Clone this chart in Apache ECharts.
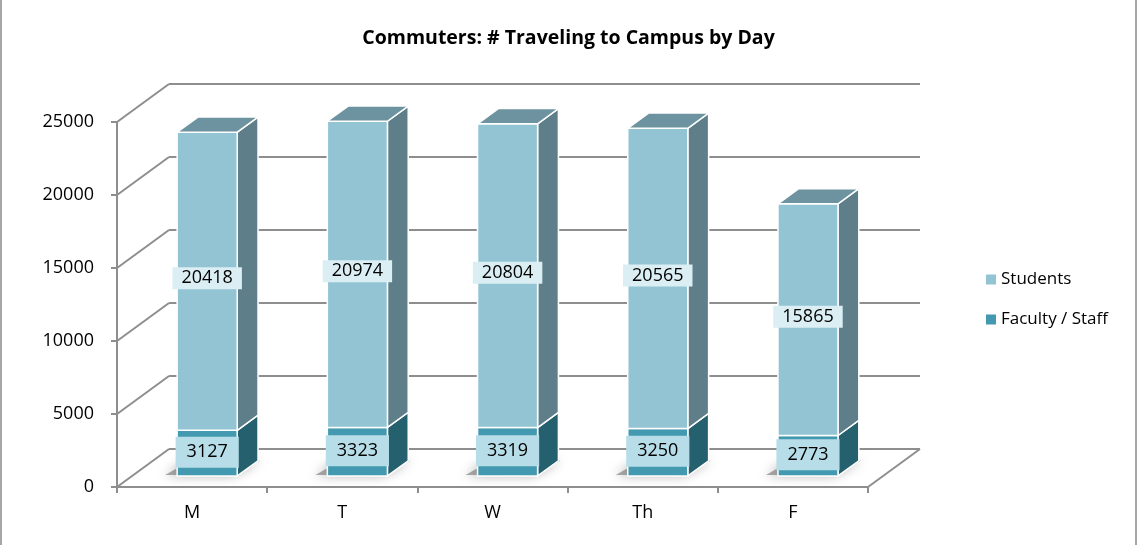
<!DOCTYPE html>
<html>
<head>
<meta charset="utf-8">
<script src="https://cdn.jsdelivr.net/npm/echarts@6/dist/echarts.min.js"></script>
<style>
html,body{margin:0;padding:0;background:#fff;}
#chart{width:1137px;height:545px;}
</style>
</head>
<body>
<div id="chart"></div>
<script>
const days = ['M', 'T', 'W', 'Th', 'F'];
const faculty = [3127, 3323, 3319, 3250, 2773];
const students = [20418, 20974, 20804, 20565, 15865];
const yTicks = [0, 5000, 10000, 15000, 20000, 25000];

const FONT = '"Open Sans", sans-serif';
// 3D projection (depth offsets in px)
const DX = 52, DY = -38, F1 = 0.29, F2 = 0.69;
const GRID_COLOR = '#8E8E8E';

function barRender(cfg) {
  return function (params, api) {
    const i = api.value(0), lo = api.value(1), hi = api.value(2);
    const pLo = api.coord([i, lo]);
    const pHi = api.coord([i, hi]);
    const band = api.size([1, 0])[0];
    const w = band * 0.4;
    const ox = F1 * DX, oy = F1 * DY;
    const bx = (F2 - F1) * DX, by = (F2 - F1) * DY;
    const x0 = pLo[0] - w / 2 + ox, x1 = x0 + w;
    const yb = pLo[1] + oy, yt = pHi[1] + oy;
    const children = [];
    if (cfg.shadow) {
      children.push({
        type: 'polygon',
        shape: { points: [[x0 - 12, yb - 1], [x0 + bx - 8, yb + by], [x1 + bx + 2, yb + by], [x1 - 4, yb - 1]] },
        style: { fill: 'rgba(90,90,90,0.5)', shadowBlur: 12, shadowColor: 'rgba(0,0,0,0.7)' },
        silent: true
      });
    }
    children.push({
      type: 'polygon',
      shape: { points: [[x1, yb], [x1 + bx, yb + by], [x1 + bx, yt + by], [x1, yt]] },
      style: { fill: cfg.side, stroke: '#fff', lineWidth: 1.5 }
    });
    children.push({
      type: 'rect',
      shape: { x: x0, y: yt, width: w, height: yb - yt },
      style: { fill: cfg.front, stroke: '#fff', lineWidth: 1.5 }
    });
    if (cfg.top) {
      children.push({
        type: 'polygon',
        shape: { points: [[x0, yt], [x0 + bx, yt + by], [x1 + bx, yt + by], [x1, yt]] },
        style: { fill: cfg.top, stroke: '#fff', lineWidth: 1.5 }
      });
    }
    children.push({
      type: 'text',
      style: {
        text: String(hi - lo),
        x: x0 + w / 2,
        y: (yb + yt) / 2 + cfg.labelDy,
        align: 'center',
        verticalAlign: 'middle',
        font: '18px ' + FONT,
        fill: '#000',
        backgroundColor: cfg.labelBg,
        padding: cfg.labelPad
      }
    });
    return { type: 'group', children: children };
  };
}

function gridRender(params, api) {
  const v = api.value(0);
  const cs = params.coordSys;
  const y = Math.round(api.coord([0, v])[1]);
  const xl = cs.x, xr = cs.x + cs.width;
  const lines = [
    { type: 'line', shape: { x1: xl, y1: y, x2: xl + DX, y2: y + DY }, style: { stroke: GRID_COLOR, lineWidth: 2 } },
    { type: 'line', shape: { x1: xl + DX, y1: y + DY, x2: xr + DX, y2: y + DY }, style: { stroke: GRID_COLOR, lineWidth: 2 } }
  ];
  if (v === 0) {
    lines.push({ type: 'line', shape: { x1: xr, y1: y, x2: xr + DX, y2: y + DY }, style: { stroke: GRID_COLOR, lineWidth: 2 } });
  }
  return { type: 'group', children: lines, silent: true };
}

const chart = echarts.init(document.getElementById('chart'), null, { renderer: 'canvas' });
chart.setOption({
  animation: false,
  backgroundColor: '#fff',
  title: {
    text: 'Commuters: # Traveling to Campus by Day',
    left: 'center',
    top: 23,
    textStyle: { fontFamily: FONT, fontSize: 19.5, fontWeight: 'bold', color: '#000' }
  },
  legend: {
    data: ['Students', 'Faculty / Staff'],
    orient: 'vertical',
    left: 981,
    top: 266,
    icon: 'rect',
    itemWidth: 10,
    itemHeight: 10,
    itemGap: 23,
    textStyle: { fontFamily: FONT, fontSize: 17, color: '#000' }
  },
  grid: { left: 117, right: 269, top: 122, bottom: 58 },
  xAxis: {
    type: 'category',
    data: days,
    axisLine: { lineStyle: { color: GRID_COLOR, width: 2 } },
    axisTick: { show: true, length: 6, lineStyle: { color: GRID_COLOR, width: 2 } },
    axisLabel: { fontFamily: FONT, fontSize: 18, color: '#000', margin: 17 },
    splitLine: { show: false }
  },
  yAxis: {
    type: 'value',
    min: 0,
    max: 25000,
    interval: 5000,
    axisLine: { show: true, lineStyle: { color: GRID_COLOR, width: 2 } },
    axisTick: { show: true, length: 6, lineStyle: { color: GRID_COLOR, width: 2 } },
    axisLabel: { fontFamily: FONT, fontSize: 18, color: '#000', margin: 23, formatter: v => String(v) },
    splitLine: { show: false }
  },
  graphic: [
    { type: 'line', shape: { x1: 1, y1: 0, x2: 1, y2: 545 }, style: { stroke: '#A6A6A6', lineWidth: 2 }, z: 100 },
    { type: 'line', shape: { x1: 1136, y1: 0, x2: 1136, y2: 545 }, style: { stroke: '#A6A6A6', lineWidth: 2 }, z: 100 }
  ],
  series: [
    {
      type: 'custom',
      name: 'grid',
      clip: false,
      z: 1,
      data: yTicks.map(v => [v]),
      encode: { y: 0 },
      renderItem: gridRender
    },
    {
      type: 'custom',
      name: 'Faculty / Staff',
      clip: false,
      z: 3,
      itemStyle: { color: '#4399AF' },
      data: days.map((d, i) => [i, 0, faculty[i]]),
      encode: { x: 0, y: [1, 2] },
      renderItem: barRender({ front: '#4399AF', side: '#25606E', top: null, shadow: true, labelBg: '#B7DEE8', labelPad: [7, 11, 6, 11], labelDy: -1 })
    },
    {
      type: 'custom',
      name: 'Students',
      clip: false,
      z: 4,
      itemStyle: { color: '#93C4D4' },
      data: days.map((d, i) => [i, faculty[i], faculty[i] + students[i]]),
      encode: { x: 0, y: [1, 2] },
      renderItem: barRender({ front: '#93C4D4', side: '#5E7E89', top: '#6C939F', shadow: false, labelBg: '#DAEEF3', labelPad: [3, 9, 1, 9], labelDy: -3 })
    }
  ]
});
</script>
</body>
</html>
